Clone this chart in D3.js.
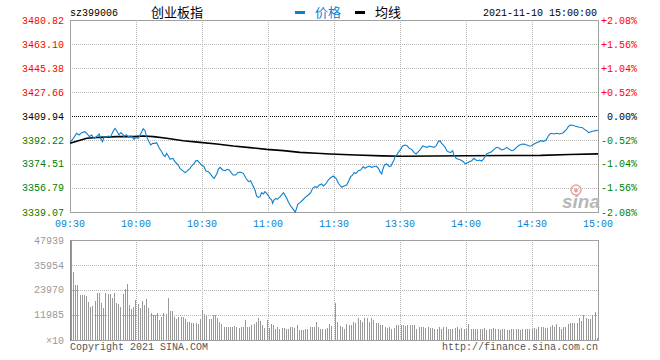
<!DOCTYPE html>
<html><head><meta charset="utf-8">
<script src="https://cdnjs.cloudflare.com/ajax/libs/d3/7.8.5/d3.min.js"></script>
<style>html,body{margin:0;padding:0;background:#fff;}svg{display:block;}</style>
</head><body><div id="chart"></div>
<script>
// ---- data ----
const code = "sz399006";
const title = "创业板指";
const dateText = "2021-11-10 15:00:00";
const legendNames = ["价格", "均线"];
const prevClose = 3409.94;
const priceTicks = [3480.82, 3463.10, 3445.38, 3427.66, 3409.94, 3392.22, 3374.51, 3356.79, 3339.07];
const priceTickLabels = ["3480.82","3463.10","3445.38","3427.66","3409.94","3392.22","3374.51","3356.79","3339.07"];
const pctTickLabels = ["+2.08%","+1.56%","+1.04%","+0.52%","0.00%","-0.52%","-1.04%","-1.56%","-2.08%"];
const timeTickMinutes = [0,30,60,90,120,150,180,210,240];
const timeTickLabels = ["09:30","10:00","10:30","11:00","11:30","13:30","14:00","14:30","15:00"];
const volTicks = [47939, 35954, 23970, 11985, 0];
const volTickLabels = ["47939","35954","23970","11985","×10"];

// price line: trading minute (0..240) and price
const priceMin = [0,1.5,3.0,4.1,5.3,6.8,7.9,8.8,9.8,10.9,12.1,13.3,13.9,14.8,15.5,16.4,17.4,18.5,19.7,20.5,21.2,22.3,23.0,23.9,24.5,25.5,26.5,28.0,29.1,30.0,31.1,32.1,33.3,34.1,34.8,35.9,36.7,37.6,38.6,39.4,40.6,41.7,42.4,43.2,43.9,44.7,45.5,46.7,47.7,49.2,50.0,51.2,52.3,53.0,54.5,55.3,56.4,57.3,58.0,59.1,59.8,60.9,61.8,62.9,63.6,64.7,65.5,66.7,67.4,68.2,69.4,70.5,71.5,72.4,73.5,74.2,75.3,76.2,77.3,78.8,80.0,81.1,82.1,83.0,84.1,84.8,85.6,86.4,87.1,87.9,88.6,89.4,90.2,90.9,91.7,92.1,92.7,93.6,94.2,95.2,96.2,97.0,97.7,98.5,99.2,100.0,100.8,101.5,102.4,103.0,103.5,104.5,105.8,106.8,108.3,109.4,110.3,111.4,112.4,113.3,114.4,115.2,116.2,117.4,118.2,
119.7,120.9,122.0,123.5,124.5,125.8,126.5,127.6,128.5,129.1,130.0,131.1,132.1,133.3,134.1,134.8,136.1,137.1,137.9,139.1,140.2,140.9,141.7,142.1,142.9,143.9,145.2,145.9,146.5,147.3,147.7,148.5,149.5,150.3,151.2,152.3,153.3,154.2,155.3,156.4,157.3,158.3,159.1,160.3,161.4,162.4,163.3,164.4,165.5,166.4,167.4,168.2,168.9,169.7,170.5,171.2,172.0,173.0,173.9,174.5,175.5,176.5,177.6,178.8,179.8,180.6,181.5,182.6,183.6,184.5,185.3,186.1,187.1,187.9,188.6,189.4,190.5,191.7,192.7,193.9,195.2,196.2,197.3,198.5,199.7,200.8,201.8,203.0,204.1,205.3,206.4,207.6,208.8,209.8,210.9,212.1,213.2,213.9,215.2,216.4,217.4,218.2,218.9,220.0,221.2,222.4,223.5,224.2,225.5,226.5,227.3,228.5,229.5,230.6,231.8,232.9,233.9,234.8,235.8,236.8,237.9,239.1,240];
const priceVal = [3390.5,3393.46,3397.15,3395.92,3397.64,3398.38,3396.66,3394.69,3395.92,3393.46,3394.69,3396.66,3393.46,3391.0,3394.69,3394.2,3395.18,3394.69,3399.12,3400.84,3399.12,3395.92,3397.64,3396.66,3394.69,3396.17,3394.69,3395.18,3392.72,3394.2,3393.46,3396.66,3400.59,3399.12,3394.69,3391.0,3388.54,3389.77,3389.77,3390.26,3386.08,3383.61,3381.15,3379.92,3382.38,3380.41,3377.95,3378.69,3376.23,3373.77,3371.31,3369.59,3368.11,3368.85,3371.31,3373.03,3375.0,3376.97,3376.97,3375.0,3373.77,3372.54,3369.34,3368.85,3367.62,3365.16,3363.93,3367.13,3370.57,3372.05,3370.08,3369.59,3370.57,3370.08,3367.62,3366.39,3366.39,3368.11,3368.6,3367.62,3363.93,3361.47,3362.2,3359.0,3355.31,3350.88,3349.9,3350.39,3353.36,3352.36,3354.08,3352.85,3350.88,3349.16,3347.93,3345.47,3347.93,3349.16,3348.42,3349.9,3351.62,3353.36,3351.62,3349.16,3346.7,3344.24,3342.52,3341.04,3339.07,3341.78,3344.73,3345.96,3347.93,3349.65,3351.62,3353.36,3356.54,3357.78,3357.28,3359.0,3359.74,3358.27,3359.74,3362.7,3364.0,
3365.65,3363.93,3360.24,3357.28,3358.27,3359.0,3361.47,3365.16,3366.39,3368.11,3367.62,3369.59,3370.08,3372.54,3371.31,3372.05,3373.03,3372.05,3372.54,3373.03,3371.31,3368.85,3367.13,3370.08,3373.77,3374.51,3372.54,3373.03,3375.0,3377.46,3379.92,3381.15,3383.61,3385.34,3387.8,3388.54,3387.8,3386.08,3385.34,3382.88,3381.89,3383.61,3384.84,3387.8,3387.3,3386.81,3387.8,3387.3,3386.81,3387.8,3391.0,3391.73,3389.77,3388.54,3386.81,3384.35,3383.61,3382.88,3384.35,3381.15,3378.69,3377.95,3377.46,3376.23,3374.51,3375.49,3376.23,3376.97,3378.69,3377.46,3376.97,3377.46,3376.72,3377.95,3379.92,3381.89,3382.88,3383.61,3385.34,3386.81,3386.08,3384.84,3385.34,3386.81,3385.34,3384.35,3384.84,3386.81,3388.29,3389.03,3389.27,3388.54,3387.8,3388.04,3389.27,3390.26,3391.0,3391.73,3391.24,3392.23,3395.18,3396.66,3397.15,3396.66,3397.15,3396.66,3397.15,3397.64,3399.61,3402.07,3403.3,3403.06,3402.56,3402.07,3401.58,3401.33,3400.1,3399.12,3397.64,3398.38,3398.87,3399.12,3399.61];

// average line
const avgMin = [0,3.8,7.6,13.6,21.2,28.8,33.3,37.9,43.9,51.5,59.1,66.7,74.2,81.8,89.4,97.0,104.5,112.1,118.2,130,142,151,180,214,227,240];
const avgVal = [3389.8,3391.7,3393.5,3394.2,3394.7,3394.7,3395.2,3394.7,3393.5,3391.7,3390.5,3389.3,3387.8,3386.6,3385.3,3384.4,3383.1,3382.4,3381.9,3381.2,3380.5,3380.2,3380.6,3380.9,3381.5,3382.0];

// volume (×10)
const volAM = [47939,32759,26367,26367,21573,21573,21573,21094,18377,15660,16300,18856,22692,22692,17898,15501,22692,22052,21893,19975,22692,17898,17258,15980,22052,24290,26846,16779,14702,15660,19176,17258,15181,18856,16779,19496,15181,13104,11985,11985,13104,9588,10866,13104,12464,20135,14062,14062,10866,9908,10866,11186,10866,9908,8789,8789,8310,8310,8310,7670,9908,14382,12464,11506,9908,9908,11985,11985,10387,8789,7670,6392,6072,6072,6072,6072,6712,6392,5753,6392,6072,9588,6392,6072,7031,7670,8629,10707,9268,7191,5593,9588,5593,7670,7191,5114,6392,5433,5753,5753,5433,5433,6072,6392,5753,7031,4794,4794,4794,5114,5433,6072,6392,6392,8629,6072,5433,5433,5433,5593,7670,6712];
const volPM = [17898,8789,6712,6392,5433,7670,7191,7191,8789,8310,10387,9588,8789,10387,10547,8789,10547,9588,8310,8310,7191,7191,6392,5913,6392,5114,5913,7191,7191,7191,7191,6871,7191,7191,7191,7191,5114,6392,6392,6392,5593,6392,5593,5593,5433,5433,6392,5433,6072,6392,5114,5433,5433,5753,6392,5433,5753,5433,5433,7670,5433,5114,5433,5433,5114,5433,5753,4794,5433,5433,5753,5114,5114,4794,5114,5114,4794,4794,5433,5433,5433,5433,4794,5433,5114,5114,5114,5114,5593,5114,6392,6392,6392,5593,5593,6392,7191,6072,7670,6392,5433,6072,6392,7670,7990,7990,8310,8310,10387,9268,11985,10387,9908,9908,11985,13583,799];

// ---- drawing ----
const W = 660, H = 360;
const L = 70, R = 598, PT = 20, PB = 212, VT = 240, VB = 340;
const mono = "'Liberation Mono','DejaVu Sans Mono',monospace";
const blue = "#0b7fd0";
const svg = d3.select("#chart").append("svg").attr("width", W).attr("height", H)
  .style("background", "#fff");

const x = d3.scaleLinear().domain([0, 240]).range([L, R]);
const y = d3.scaleLinear().domain([priceTicks[8], priceTicks[0]]).range([PB, PT]);
const yv = d3.scaleLinear().domain([0, volTicks[0]]).range([VB, VT]);
const xAM = d3.scaleLinear().domain([0, volAM.length - 1]).range([71, 331]);
const xPM = d3.scaleLinear().domain([0, volPM.length - 1]).range([335, 597]);

const gridColor = "#b4b4b4";
const g = svg.append("g").attr("shape-rendering", "crispEdges");

// price grid
priceTicks.forEach((v, i) => {
  if (i === 0 || i === 8) return;
  const yy = Math.round(y(v)) + 0.5;
  g.append("line").attr("x1", L).attr("x2", R).attr("y1", yy).attr("y2", yy)
    .attr("stroke", v === prevClose ? "#000" : gridColor)
    .attr("stroke-dasharray", "1,1");
});
timeTickMinutes.forEach((m, i) => {
  if (i === 0 || i === 8) return;
  const xx = Math.round(x(m)) + 0.5;
  g.append("line").attr("x1", xx).attr("x2", xx).attr("y1", PT).attr("y2", PB)
    .attr("stroke", gridColor).attr("stroke-dasharray", "1,1");
  g.append("line").attr("x1", xx).attr("x2", xx).attr("y1", VT).attr("y2", VB)
    .attr("stroke", gridColor).attr("stroke-dasharray", "1,1");
});
// volume grid
volTicks.forEach((v, i) => {
  if (i === 0 || i === 4) return;
  const yy = Math.round(yv(v)) + 0.5;
  g.append("line").attr("x1", L).attr("x2", R).attr("y1", yy).attr("y2", yy)
    .attr("stroke", gridColor).attr("stroke-dasharray", "1,1");
});

// volume bars
const bars = svg.append("g").attr("shape-rendering", "crispEdges");
bars.selectAll("rect.am").data(volAM).join("rect")
  .attr("x", (d, i) => Math.round(xAM(i))).attr("width", 1)
  .attr("y", d => Math.round(yv(d))).attr("height", d => VB - Math.round(yv(d)))
  .attr("fill", "#999");
bars.selectAll("rect.pm").data(volPM).join("rect")
  .attr("x", (d, i) => Math.round(xPM(i))).attr("width", 1)
  .attr("y", d => Math.round(yv(d))).attr("height", d => VB - Math.round(yv(d)))
  .attr("fill", "#999");

// borders
g.append("rect").attr("x", L + 0.5).attr("y", PT + 0.5).attr("width", R - L).attr("height", PB - PT)
  .attr("fill", "none").attr("stroke", "#a0a0a0");
g.append("rect").attr("x", L + 0.5).attr("y", VT + 0.5).attr("width", R - L).attr("height", VB - VT)
  .attr("fill", "none").attr("stroke", "#a0a0a0");
g.append("line").attr("x1", L + 0.5).attr("x2", L + 0.5).attr("y1", VT).attr("y2", VB + 1)
  .attr("stroke", "#888").attr("stroke-width", 1);

// watermark
const wm = svg.append("g");
wm.append("circle").attr("cx", 576).attr("cy", 190).attr("r", 5).attr("fill", "none")
  .attr("stroke", "#f0a0a0").attr("stroke-width", 1.5);
wm.append("circle").attr("cx", 576).attr("cy", 190.5).attr("r", 2).attr("fill", "#f0a0a0");
wm.append("text").attr("x", 562).attr("y", 208).text("sina")
  .attr("font-family", "'Liberation Sans',Arial,sans-serif").attr("font-style", "italic")
  .attr("font-weight", "bold").attr("font-size", 19).attr("fill", "#b8b8b8");

// lines
const pts = priceMin.map((m, i) => [m, priceVal[i]]);
const apts = avgMin.map((m, i) => [m, avgVal[i]]);
const line = d3.line().x(d => x(d[0])).y(d => y(d[1]));
svg.append("path").datum(apts).attr("d", line).attr("fill", "none")
  .attr("stroke", "#000").attr("stroke-width", 1.6);
svg.append("path").datum(pts).attr("d", line).attr("fill", "none")
  .attr("stroke", blue).attr("stroke-width", 1.1);

// axes text
const txt = svg.append("g").attr("font-family", mono).attr("font-size", 10);
priceTicks.forEach((v, i) => {
  const c = v > prevClose ? "#f00" : (v < prevClose ? "#008000" : "#000");
  txt.append("text").attr("x", 64).attr("y", y(v)).attr("dy", "0.35em")
    .attr("text-anchor", "end").attr("fill", c).text(priceTickLabels[i]);
  txt.append("text").attr("x", 637).attr("y", y(v)).attr("dy", "0.35em")
    .attr("text-anchor", "end").attr("fill", c).text(pctTickLabels[i]);
});
timeTickMinutes.forEach((m, i) => {
  txt.append("text").attr("x", x(m)).attr("y", 227).attr("text-anchor", "middle")
    .attr("fill", blue).text(timeTickLabels[i]);
});
volTicks.forEach((v, i) => {
  txt.append("text").attr("x", 64).attr("y", yv(v)).attr("dy", "0.35em")
    .attr("text-anchor", "end").attr("fill", "#999").text(volTickLabels[i]);
});
txt.append("text").attr("x", 70).attr("y", 350).attr("fill", "#555").text("Copyright 2021 SINA.COM");
txt.append("text").attr("x", 598).attr("y", 350).attr("text-anchor", "end").attr("fill", "#555")
  .text("http://finance.sina.com.cn");

// header
txt.append("text").attr("x", 70).attr("y", 16).attr("fill", "#000").text(code);
txt.append("text").attr("x", 597).attr("y", 16).attr("text-anchor", "end").attr("fill", "#000").text(dateText);
svg.append("text").attr("x", 177).attr("y", 17).attr("text-anchor", "middle")
  .attr("font-family", "'Noto Sans CJK SC',sans-serif").attr("font-size", 13).attr("fill", "#000").text(title);
svg.append("rect").attr("x", 295).attr("y", 11).attr("width", 10).attr("height", 3).attr("fill", blue);
svg.append("text").attr("x", 315).attr("y", 17).attr("font-family", "'Noto Sans CJK SC',sans-serif")
  .attr("font-size", 13).attr("fill", blue).text(legendNames[0]);
svg.append("rect").attr("x", 355).attr("y", 11).attr("width", 10).attr("height", 3).attr("fill", "#000");
svg.append("text").attr("x", 375).attr("y", 17).attr("font-family", "'Noto Sans CJK SC',sans-serif")
  .attr("font-size", 13).attr("fill", "#000").text(legendNames[1]);
</script></body></html>
